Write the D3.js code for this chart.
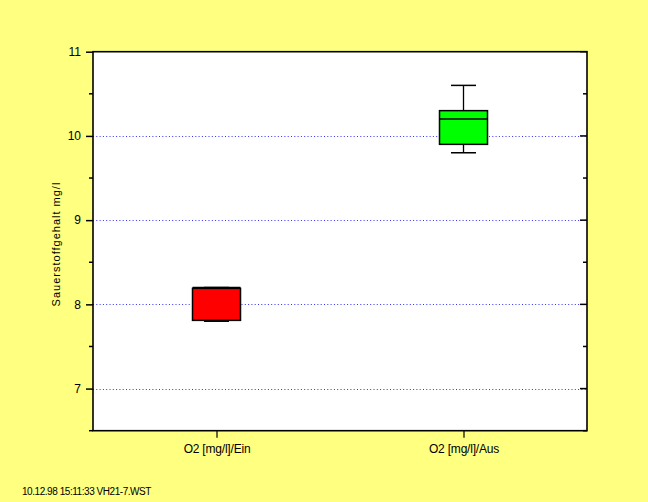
<!DOCTYPE html>
<html>
<head>
<meta charset="utf-8">
<script src="https://cdn.jsdelivr.net/npm/d3@7/dist/d3.min.js"></script>
<style>
  html, body { margin: 0; padding: 0; background: #ffff80; }
  svg { display: block; }
  text { font-family: "Liberation Sans", Arial, sans-serif; fill: #000; }
</style>
</head>
<body>
<svg id="chart" width="648" height="502"></svg>
<script>
// Box plot statistics per measuring point
const categories = ["O2 [mg/l]/Ein", "O2 [mg/l]/Aus"];
const minValues    = [7.8, 9.8];
const q1Values     = [7.81, 9.9];
const medianValues = [8.2, 10.2];
const q3Values     = [8.19, 10.3];
const maxValues    = [8.2, 10.6];
const boxColors    = ["#ff0000", "#00ff00"];
const yTicks       = [7, 8, 9, 10, 11];
const yMinorTicks  = [6.5, 7.5, 8.5, 9.5, 10.5];
const gridValues   = [7, 8, 9, 10];
const yLabel       = "Sauerstoffgehalt mg/l";
const footer       = "10.12.98 15:11:33 VH21-7.WST";

const svg = d3.select("#chart");
const W = 648, H = 502;
const plot = { left: 93, top: 51.7, right: 587, bottom: 430.7 };

svg.append("rect").attr("width", W).attr("height", H).attr("fill", "#ffff80");

const y = d3.scaleLinear().domain([6.5, 11]).range([plot.bottom, plot.top]);
const x = d3.scalePoint().domain(categories).range([plot.left, plot.right]).padding(0.5);

// plot area
svg.append("rect")
  .attr("x", plot.left).attr("y", plot.top)
  .attr("width", plot.right - plot.left).attr("height", plot.bottom - plot.top)
  .attr("fill", "#fff");

// dotted grid lines
svg.append("g").selectAll("line").data(gridValues).join("line")
  .attr("x1", plot.left).attr("x2", plot.right)
  .attr("y1", d => Math.round(y(d)) + 0.5).attr("y2", d => Math.round(y(d)) + 0.5)
  .attr("stroke", "#3030ff").attr("stroke-width", 1)
  .attr("stroke-dasharray", "1,2.3");

// left axis
const leftAxis = svg.append("g")
  .attr("transform", `translate(${plot.left},0)`)
  .call(d3.axisLeft(y).tickValues(yTicks).tickSize(7).tickPadding(5).tickFormat(d3.format("d")));
leftAxis.select(".domain").remove();
leftAxis.selectAll("line").attr("stroke", "#000").attr("stroke-width", 1.5);
leftAxis.selectAll("text").style("font-size", "12px").style("font-family", "Liberation Sans, Arial, sans-serif");
svg.append("g").selectAll("line").data(yMinorTicks).join("line")
  .attr("x1", plot.left - 4).attr("x2", plot.left)
  .attr("y1", d => y(d)).attr("y2", d => y(d))
  .attr("stroke", "#000").attr("stroke-width", 1.5);

// right axis ticks (inward)
svg.append("g").selectAll("line").data(yTicks).join("line")
  .attr("x1", plot.right - 7).attr("x2", plot.right)
  .attr("y1", d => y(d)).attr("y2", d => y(d))
  .attr("stroke", "#000").attr("stroke-width", 1.5);
svg.append("g").selectAll("line").data(yMinorTicks).join("line")
  .attr("x1", plot.right - 4).attr("x2", plot.right)
  .attr("y1", d => y(d)).attr("y2", d => y(d))
  .attr("stroke", "#000").attr("stroke-width", 1.5);

// bottom axis
const bottomAxis = svg.append("g")
  .attr("transform", `translate(0,${plot.bottom})`)
  .call(d3.axisBottom(x).tickSize(7).tickPadding(7));
bottomAxis.select(".domain").remove();
bottomAxis.selectAll("line").attr("stroke", "#000").attr("stroke-width", 1.2);
bottomAxis.selectAll("text")
  .style("font-size", "12px").style("letter-spacing", "-0.2px")
  .style("font-family", "Liberation Sans, Arial, sans-serif");

// frame
svg.append("rect")
  .attr("x", plot.left).attr("y", plot.top)
  .attr("width", plot.right - plot.left).attr("height", plot.bottom - plot.top)
  .attr("fill", "none").attr("stroke", "#000").attr("stroke-width", 1.6);

// boxes
const boxW = 48, capW = 25;
const stats = categories.map((c, i) => ({
  c, min: minValues[i], q1: q1Values[i], med: medianValues[i],
  q3: q3Values[i], max: maxValues[i], color: boxColors[i]
}));
const g = svg.append("g").selectAll("g").data(stats).join("g")
  .attr("transform", d => `translate(${x(d.c)},0)`);
g.append("line")
  .attr("x1", 0).attr("x2", 0)
  .attr("y1", d => y(d.max)).attr("y2", d => y(d.q3))
  .attr("stroke", "#000").attr("stroke-width", 1.3);
g.append("line")
  .attr("x1", 0).attr("x2", 0)
  .attr("y1", d => y(d.q1)).attr("y2", d => y(d.min))
  .attr("stroke", "#000").attr("stroke-width", 1.3);
g.append("line")
  .attr("x1", -capW / 2).attr("x2", capW / 2)
  .attr("y1", d => y(d.max)).attr("y2", d => y(d.max))
  .attr("stroke", "#000").attr("stroke-width", 1.5);
g.append("line")
  .attr("x1", -capW / 2).attr("x2", capW / 2)
  .attr("y1", d => y(d.min)).attr("y2", d => y(d.min))
  .attr("stroke", "#000").attr("stroke-width", 1.5);
g.append("rect")
  .attr("x", -boxW / 2).attr("width", boxW)
  .attr("y", d => y(d.q3)).attr("height", d => y(d.q1) - y(d.q3))
  .attr("fill", d => d.color).attr("stroke", "#000").attr("stroke-width", 1.5);
g.append("line")
  .attr("x1", -boxW / 2).attr("x2", boxW / 2)
  .attr("y1", d => y(d.med)).attr("y2", d => y(d.med))
  .attr("stroke", "#000").attr("stroke-width", 1.5);

// y-axis title
svg.append("text")
  .attr("transform", `translate(60,244) rotate(-90)`)
  .attr("text-anchor", "middle")
  .style("font-size", "11px").style("letter-spacing", "1px")
  .text(yLabel);

// footer stamp
svg.append("text")
  .attr("x", 22).attr("y", 495)
  .style("font-size", "10px").style("letter-spacing", "-0.45px")
  .text(footer);
</script>
</body>
</html>
